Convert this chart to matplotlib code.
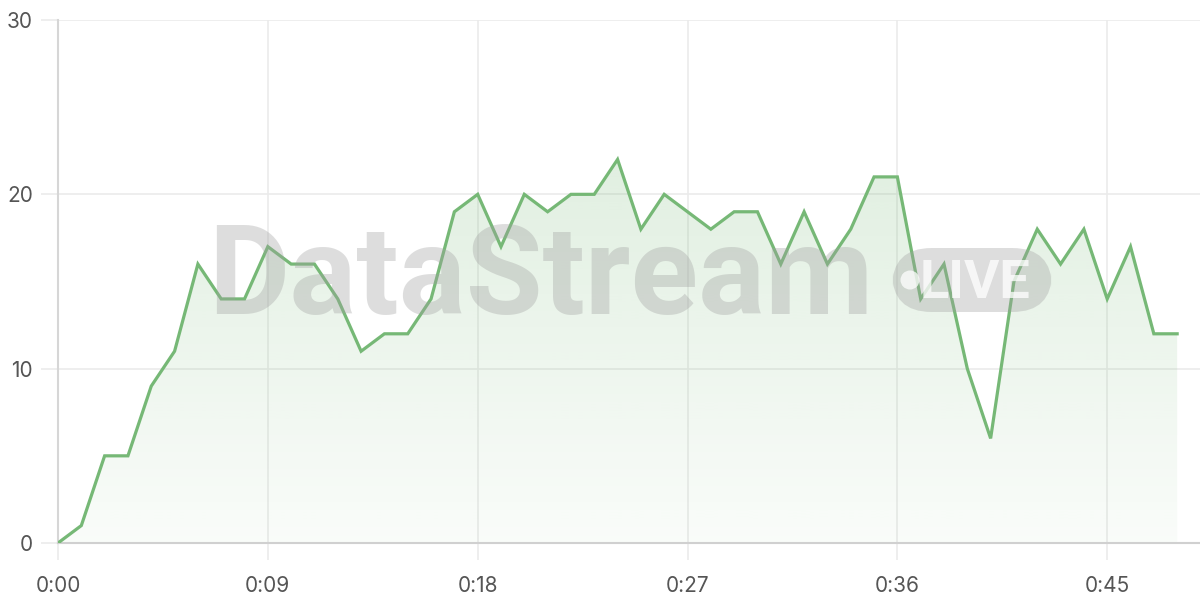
import matplotlib
matplotlib.use("Agg")
import matplotlib.pyplot as plt
import numpy as np
from matplotlib.patches import FancyBboxPatch, Ellipse

seconds = list(range(49))
values = [0, 1, 5, 5, 9, 11, 16, 14, 14, 17, 16, 16, 14, 11, 12, 12, 14, 19, 20, 17,
          20, 19, 20, 20, 22, 18, 20, 19, 18, 19, 19, 16, 19, 16, 18, 21, 21, 14, 16, 10,
          6, 15, 18, 16, 18, 14, 17, 12, 12]
xtick_pos = [0, 9, 18, 27, 36, 45]
xtick_labels = ["0:00", "0:09", "0:18", "0:27", "0:36", "0:45"]
ytick_pos = [0, 10, 20, 30]

plt.rcParams['font.family'] = ['Inter', 'DejaVu Sans']

fig = plt.figure(figsize=(12, 6), dpi=100)
ax = fig.add_axes([58/1200, 57/600, 1 - 58/1200, 523/600])
ax.set_xlim(0, 48.98)
ax.set_ylim(0, 30)

line_color = '#76b876'

# gradient fill
x = np.array(seconds, dtype=float)
y = np.array(values, dtype=float)
poly = ax.fill_between(x, y, 0, color='none', lw=0)
grad = np.linspace(0.22, 0.04, 256).reshape(-1, 1)
rgba = np.zeros((256, 1, 4))
rgba[..., 0] = 0x76/255
rgba[..., 1] = 0xb8/255
rgba[..., 2] = 0x76/255
rgba[..., 3] = grad
im = ax.imshow(rgba, extent=[0, 48, 0, max(values)], aspect='auto', origin='upper', zorder=2)
path = poly.get_paths()[0]
im.set_clip_path(path, transform=ax.transData)

ax.plot(x, y, color=line_color, lw=2.3, zorder=4, solid_joinstyle='miter')

# grid
ax.set_xticks(xtick_pos)
ax.set_xticklabels(xtick_labels)
ax.set_yticks(ytick_pos)
ax.grid(True, color='#ebebeb', lw=1.2, zorder=0)
ax.set_axisbelow(True)
for s in ['top', 'right']:
    ax.spines[s].set_visible(False)
ax.spines['left'].set_color('#d6d6d6')
ax.spines['left'].set_linewidth(1.5)
ax.spines['bottom'].set_color('#d0d0d0')
ax.spines['bottom'].set_linewidth(1.5)
ax.tick_params(axis='both', colors='#ebebeb', length=12, width=1.2, labelsize=15,
               labelcolor='#555555')
ax.tick_params(axis='y', pad=6)
ax.tick_params(axis='x', pad=12)

# watermark
wm_color = '#a0a0a0'
fig.text(208/1200, 1 - 314/600, "DataStream", fontsize=90, fontweight='bold',
         family=['Roboto', 'DejaVu Sans'], color=wm_color, alpha=0.35,
         ha='left', va='baseline', zorder=3)
box = FancyBboxPatch((892/1200, 1 - 312/600), 160/1200, 64/600,
                     boxstyle="round,pad=0,rounding_size=0.033",
                     transform=fig.transFigure, facecolor=wm_color, alpha=0.35,
                     edgecolor='none', zorder=3, mutation_aspect=2)
fig.add_artist(box)
dot = Ellipse((910/1200, 1 - 280/600), 19/1200, 19/600, transform=fig.transFigure,
              facecolor='white', alpha=0.75, edgecolor='none', zorder=3)
fig.add_artist(dot)
fig.text(975/1200, 1 - 298/600, "LIVE", fontsize=39, fontweight='bold',
         family=['Roboto', 'DejaVu Sans'], color='white', alpha=0.75,
         ha='center', va='baseline', zorder=3)

fig.savefig('out.png', dpi=100)
